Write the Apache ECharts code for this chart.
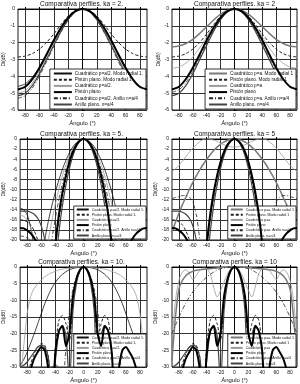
<!DOCTYPE html>
<html>
<head>
<meta charset="utf-8">
<script src="https://cdn.jsdelivr.net/npm/echarts@6/dist/echarts.min.js"></script>
<style>
html, body { margin: 0; padding: 0; background: #fff; }
#main { width: 300px; height: 384px; }
</style>
</head>
<body>
<div id="main"></div>
<script>
// half profiles, 0..90 deg (patterns are symmetric, mirrored below)
const ang10 = [0, 10, 20, 30, 40, 50, 60, 70, 80, 90];
const ang5 = [0, 5, 10, 15, 20, 25, 30, 35, 40, 45, 50, 55, 60, 65, 70, 75, 80, 85, 90];
const xTicks = [-80, -60, -40, -20, 0, 20, 40, 60, 80];

// ka = 2
const k2_piston = [0, -0.13, -0.51, -1.11, -1.86, -2.69, -3.49, -4.16, -4.62, -4.78];
const k2_pistonMr = [0, -0.1, -0.42, -0.92, -1.48, -1.98, -2.38, -2.65, -2.8, -2.85];
const k2_anillo = [0, -0.16, -0.63, -1.32, -2.15, -3.0, -3.85, -4.55, -5.0, -5.15];
const k2_cuadMr_a2 = [0, -0.14, -0.55, -1.15, -1.9, -2.7, -3.45, -4.05, -4.45, -4.6];
const k2_cuad_a2 = [0, -0.15, -0.6, -1.25, -2.05, -2.9, -3.7, -4.4, -4.85, -5.0];
const k2_cuadAn_a2 = [0, -0.17, -0.66, -1.38, -2.22, -3.12, -3.98, -4.7, -5.15, -5.3];
const k2_cuadMr_a = [0, -0.08, -0.3, -0.65, -1.05, -1.45, -1.8, -2.05, -2.2, -2.25];
const k2_cuad_a = [0, -0.12, -0.48, -1.02, -1.65, -2.3, -2.85, -3.22, -3.45, -3.52];
const k2_cuadAn_a = [0, -0.15, -0.6, -1.25, -2.05, -2.88, -3.7, -4.38, -4.8, -4.95];

// ka = 5
const k5_piston = [0, -0.3, -1.1, -2.5, -4.5, -7.2, -10.6, -15, -21, -30, -38, -30, -24, -21, -19.6, -18.7, -18.1, -17.7, -17.6];
const k5_pistonMr = [0, -0.35, -1.3, -2.9, -5.1, -8, -11.6, -16, -21.5, -28, -35, -28, -23, -20, -18.2, -17, -16.4, -16.1, -16];
const k5_anillo = [0, -0.4, -1.5, -3.3, -5.8, -9.1, -13.2, -18.5, -25, -32, -25, -20, -17.2, -15.7, -14.9, -14.5, -14.3, -14.3, -14.3];
const k5_cuadMr_a2 = [0, -0.2, -0.7, -1.5, -2.7, -4.2, -6, -8.1, -10.5, -13.2, -16.3, -20, -26, -32, -22, -17.5, -15, -14, -13.7];
const k5_cuad_a2 = [0, -0.22, -0.85, -1.85, -3.3, -5.1, -7.3, -9.9, -12.9, -16.2, -20, -24.5, -32, -25, -20, -17.6, -16, -15.3, -15.1];
const k5_cuadAn_a2 = [0, -0.28, -1.0, -2.2, -3.9, -6.1, -8.8, -12, -15.7, -20, -26, -35, -28, -24, -21.5, -20.2, -19.6, -19.3, -19.2];
const k5_cuadMr_a = [0, -0.1, -0.25, -0.6, -1.0, -1.6, -2.3, -3.1, -4.0, -5.0, -6.1, -7.3, -8.6, -10, -11.5, -13, -14.7, -16.5, -18.5];
const k5_cuad_a = [-1.6, -1.55, -1.4, -1.15, -0.8, -0.45, -0.2, -0.05, 0, -0.1, -0.5, -1.1, -1.8, -2.6, -3.5, -4.4, -5.2, -5.9, -6.4];
const k5_cuadAn_a = [0, -0.3, -1.2, -2.7, -4.8, -7.6, -11.2, -15.7, -21, -28, -20, -15, -12.5, -11.5, -11.2, -11.2, -11.4, -11.6, -11.8];

// ka = 10
const k10_piston = [0, -0.84, -3.5, -8.7, -19.8, -23.7, -17.7, -19.2, -25.5, -45, -30.8, -25, -24, -25.5, -27.4, -30.7, -34.8, -38, -41];
const k10_pistonMr = [0, -1, -4, -10, -22, -17, -14.5, -16, -24, -40, -27, -23.5, -23, -24, -26, -29, -32, -36, -40];
const k10_anillo = [0, -1.1, -4.8, -13, -35, -20.5, -17.5, -19.5, -28, -36, -27, -24, -23.5, -24, -25.5, -27, -28.5, -29.5, -30];
const k10_cuadMr_a2 = [0, -0.05, -0.2, -0.45, -0.8, -1.4, -2.2, -3.2, -4.6, -6.3, -8.5, -11, -14, -17, -20, -22.8, -25.5, -27.8, -29.5];
const k10_cuad_a2 = [0, -0.05, -0.1, -0.2, -0.3, -0.45, -0.65, -0.9, -1.3, -1.7, -2.2, -2.9, -3.9, -5, -6.4, -8.8, -14, -24, -35];
const k10_cuadAn_a2 = [0, -0.7, -2.8, -6.5, -13, -24, -36, -31, -29, -30, -33, -38, -40, -40, -40, -40, -40, -40, -40];
const k10_cuadMr_a = [0, 0, -0.05, -0.1, -0.2, -0.3, -0.4, -0.5, -0.6, -0.7, -0.8, -1, -1.3, -1.8, -2.6, -4, -6.6, -15, -28];
const k10_cuad_a = [0, -0.5, -2, -4.5, -7, -9, -6, -2, -0.5, -0.3, -1, -2.5, -3.8, -2, -0.8, -1.5, -4, -10, -22];
const k10_cuadAn_a = [0, -0.03, -0.1, -0.25, -0.5, -0.9, -1.5, -2.2, -3, -4, -5, -6.2, -7.5, -9, -10.8, -12.8, -15, -17.5, -20];

const namesL = ['Cuadrático p=a/2. Modo radial 1.', 'Pistón plano. Modo radial 1.', 'Cuadrático p=a/2.',
  'Pistón plano', 'Cuadrático p=a/2. Anillo n=a/4', 'Anillo plano. n=a/4'];
const namesR = ['Cuadrático p=a. Modo radial 1', 'Pistón plano. Modo radial 1', 'Cuadrático p=a',
  'Pistón plano', 'Cuadrático p=a. Anillo n=a/4', 'Anillo plano. n=a/4'];

const yMins = [-6, -20, -30];
const ySteps = [1, 2, 5];

const panels = [
  { title: 'Comparativa perfiles. ka = 2.', ang: ang10, names: namesL,
    curves: [k2_cuadMr_a2, k2_pistonMr, k2_cuad_a2, k2_piston, k2_cuadAn_a2, k2_anillo] },
  { title: 'Comparativa perfiles. ka = 2', ang: ang10, names: namesR,
    curves: [k2_cuadMr_a, k2_pistonMr, k2_cuad_a, k2_piston, k2_cuadAn_a, k2_anillo] },
  { title: 'Comparativa perfiles. ka = 5.', ang: ang5, names: namesL,
    curves: [k5_cuadMr_a2, k5_pistonMr, k5_cuad_a2, k5_piston, k5_cuadAn_a2, k5_anillo] },
  { title: 'Comparativa perfiles. ka = 5', ang: ang5, names: namesR,
    curves: [k5_cuadMr_a, k5_pistonMr, k5_cuad_a, k5_piston, k5_cuadAn_a, k5_anillo] },
  { title: 'Comparativa perfiles. ka = 10.', ang: ang5, names: namesL,
    curves: [k10_cuadMr_a2, k10_pistonMr, k10_cuad_a2, k10_piston, k10_cuadAn_a2, k10_anillo] },
  { title: 'Comparativa perfiles. ka = 10', ang: ang5, names: namesR,
    curves: [k10_cuadMr_a, k10_pistonMr, k10_cuad_a, k10_piston, k10_cuadAn_a, k10_anillo] }
];

// line styles, index = legend position
const styles = [
  { color: '#111', width: 0.8, type: 'solid' },
  { color: '#222', width: 1, type: [3, 2] },
  { color: '#9a9a9a', width: 0.8, type: 'solid' },
  { color: '#000', width: 2, type: 'solid' },
  { color: '#222', width: 0.8, type: [4, 2, 1, 2] },
  { color: '#444', width: 1.2, type: 'solid' }
];
const styleR1 = { color: '#7a7a7a', width: 1.5, type: 'solid' };

const cols = [{ left: 16, width: 131 }, { left: 172, width: 125 }];
const rowTops = [9, 139, 267];
const plotH = 101;
const font = 'Liberation Sans, Arial, sans-serif';

function mirror(angles, vals) {
  const out = [];
  for (let i = angles.length - 1; i > 0; i--) out.push([-angles[i], vals[i]]);
  for (let i = 0; i < angles.length; i++) out.push([angles[i], vals[i]]);
  return out;
}

const grid = [], xAxis = [], yAxis = [], title = [], legend = [], series = [];

panels.forEach((p, i) => {
  const row = Math.floor(i / 2), col = i % 2;
  const c = cols[col], top = rowTops[row];
  grid.push({ left: c.left, top: top, width: c.width, height: plotH,
    show: true, borderColor: '#000', borderWidth: 0.9, backgroundColor: '#fff' });
  xAxis.push({
    type: 'value', gridIndex: i, min: -90, max: 90,
    name: 'Ángulo (°)', nameLocation: 'middle', nameGap: 10,
    nameTextStyle: { fontSize: 6, color: '#111', fontFamily: font },
    axisLine: { lineStyle: { color: '#000', width: 0.9 } },
    axisTick: { inside: true, length: 2, customValues: xTicks, lineStyle: { color: '#000' } },
    axisLabel: { customValues: xTicks, fontSize: 5, color: '#111', margin: 3, fontFamily: font },
    splitLine: { show: true, lineStyle: { color: '#333', width: 1 } }
  });
  yAxis.push({
    type: 'value', gridIndex: i, min: yMins[row], max: 0, interval: ySteps[row],
    name: 'Di(dB)', nameLocation: 'middle', nameGap: col === 0 ? 12 : 10,
    nameTextStyle: { fontSize: 5, color: '#111', fontFamily: font },
    axisLine: { lineStyle: { color: '#000', width: 0.9 } },
    axisTick: { inside: true, length: 2, lineStyle: { color: '#000' } },
    axisLabel: { fontSize: 5, color: '#111', margin: 3, fontFamily: font },
    splitLine: { show: true, lineStyle: { color: '#333', width: 1 } }
  });
  title.push({
    text: p.title, left: c.left + c.width / 2, top: top - 8.5, textAlign: 'center', padding: 0,
    textStyle: { fontSize: 6.5, fontWeight: 'normal', color: '#111', fontFamily: font }
  });
  const big = row === 0;
  legend.push({
    data: p.names, orient: 'vertical',
    right: col === 0 ? 154 : 4, bottom: 384 - (top + plotH) + 1,
    backgroundColor: '#fff', borderColor: '#000', borderWidth: 0.8,
    padding: big ? [2, 3, 2, 3] : [1.5, 2, 1.5, 2],
    itemGap: big ? 1.2 : 1.2, itemWidth: big ? 18 : 12, itemHeight: big ? 4.6 : 3.8,
    itemStyle: { opacity: 0 },
    textStyle: { fontSize: big ? 4.7 : 3.6, color: '#111', fontFamily: font, padding: [0, 0, 0, -2] },
    selectedMode: false
  });
  p.curves.forEach((vals, k) => {
    const st = (col === 1 && k === 0) ? styleR1 : styles[k];
    series.push({
      type: 'line', name: p.names[k], xAxisIndex: i, yAxisIndex: i,
      data: mirror(p.ang, vals), symbol: 'none', smooth: 0.25, clip: true,
      lineStyle: st, itemStyle: { color: st.color }, z: k === 3 ? 4 : 3
    });
  });
});

const chart = echarts.init(document.getElementById('main'));
chart.setOption({ animation: false, backgroundColor: '#fff', title, grid, xAxis, yAxis, legend, series });
</script>
</body>
</html>
